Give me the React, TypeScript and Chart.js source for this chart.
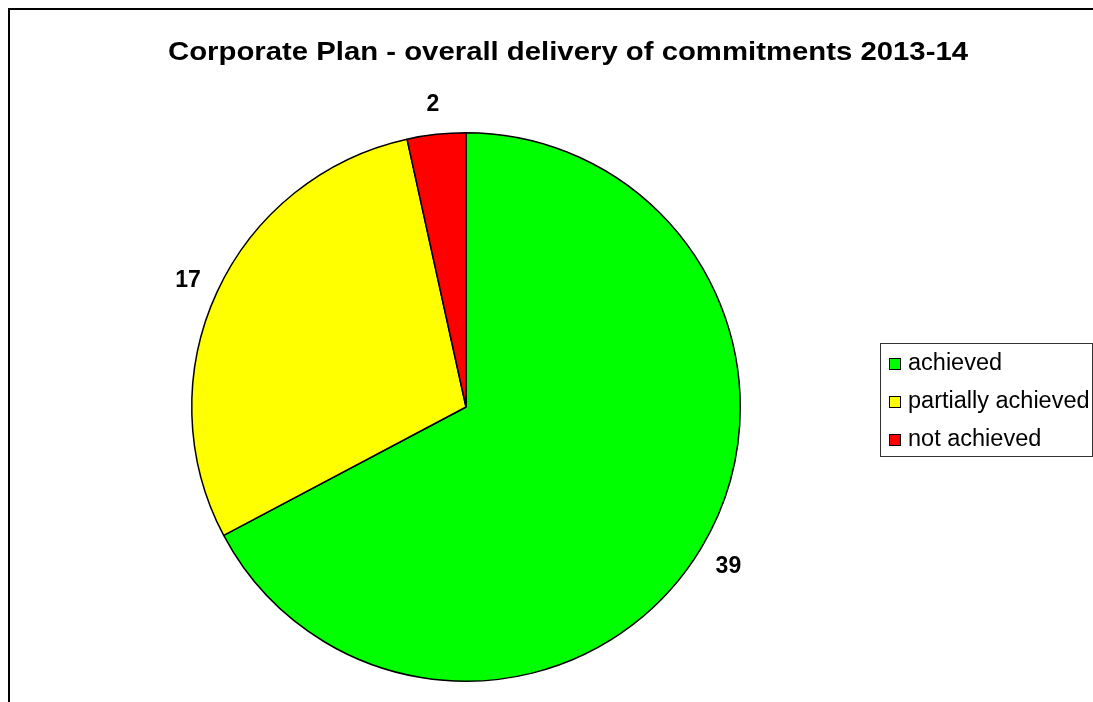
import React, { useEffect, useRef } from "react";
import { Chart, registerables } from "chart.js";

Chart.register(...registerables);

const TITLE = "Corporate Plan - overall delivery of commitments 2013-14";
const categories = ["achieved", "partially achieved", "not achieved"];
const values = [39, 17, 2];
const colors = ["#00FF00", "#FFFF00", "#FF0000"];

const FONT = "Liberation Sans, Arial, sans-serif";

const decorPlugin = {
  id: "decor",
  afterDraw(chart: any) {
    const ctx = chart.ctx as CanvasRenderingContext2D;
    ctx.save();
    // title (stretched horizontally to match the reference width)
    ctx.fillStyle = "#000";
    ctx.font = `bold 25px ${FONT}`;
    ctx.textAlign = "center";
    ctx.textBaseline = "alphabetic";
    const tw = ctx.measureText(TITLE).width;
    const sx = 800 / tw;
    ctx.save();
    ctx.translate(568, 60);
    ctx.scale(sx, 1);
    ctx.fillText(TITLE, 0, 0);
    ctx.restore();

    // data labels
    const meta = chart.getDatasetMeta(0);
    const labelFont = 23;
    ctx.font = `bold ${labelFont}px ${FONT}`;
    meta.data.forEach((arc: any, i: number) => {
      const p = arc.getProps(["x", "y", "startAngle", "endAngle", "outerRadius"], true);
      const mid = (p.startAngle + p.endAngle) / 2;
      const r = p.outerRadius + 32;
      const x = p.x + Math.cos(mid) * r;
      const y = p.y + Math.sin(mid) * r;
      ctx.textAlign = "center";
      ctx.fillText(String(chart.data.datasets[0].data[i]), x, y + labelFont * 0.36);
    });

    // legend
    const lx = 880, ly = 343, lw = 212, lh = 113;
    ctx.fillStyle = "#fff";
    ctx.fillRect(lx, ly, lw, lh);
    ctx.font = `23.5px ${FONT}`;
    ctx.textAlign = "left";
    const labels = chart.data.labels as string[];
    const bg = chart.data.datasets[0].backgroundColor as string[];
    ctx.save();
    ctx.beginPath();
    ctx.rect(lx, ly, lw, lh);
    ctx.clip();
    labels.forEach((lab, i) => {
      const base = 370 + i * 38;
      ctx.fillStyle = bg[i];
      ctx.fillRect(889, base - 12, 12, 12);
      ctx.lineWidth = 1;
      ctx.strokeStyle = "#000";
      ctx.strokeRect(889.5, base - 11.5, 11, 11);
      ctx.fillStyle = "#000";
      ctx.fillText(lab, 908, base);
    });
    ctx.restore();
    ctx.lineWidth = 1;
    ctx.strokeStyle = "#333";
    ctx.strokeRect(lx + 0.5, ly + 0.5, lw, lh);
    ctx.restore();
  },
};

export default function App() {
  const ref = useRef<HTMLCanvasElement>(null);
  useEffect(() => {
    if (!ref.current) return;
    const chart = new Chart(ref.current, {
      type: "pie",
      data: {
        labels: categories,
        datasets: [
          {
            data: values,
            backgroundColor: colors,
            borderColor: "#000",
            borderWidth: 1.5,
          },
        ],
      },
      options: {
        animation: false,
        responsive: false,
        maintainAspectRatio: false,
        layout: { padding: { left: 191, right: 352, top: 132, bottom: 20 } },
        plugins: {
          legend: { display: false },
          title: { display: false },
          tooltip: { enabled: false },
        },
      },
      plugins: [decorPlugin],
    });
    return () => chart.destroy();
  }, []);

  return (
    <div
      style={{
        position: "fixed",
        left: 0,
        top: 0,
        width: 1093,
        height: 702,
        overflow: "hidden",
        background: "#fff",
      }}
    >
      <canvas ref={ref} width={1093} height={702} style={{ position: "absolute", left: 0, top: 0, width: 1093, height: 702 }} />
      <div
        style={{
          position: "absolute",
          left: 8,
          top: 8,
          width: 2000,
          height: 2000,
          borderLeft: "2px solid #000",
          borderTop: "2px solid #000",
          pointerEvents: "none",
        }}
      />
    </div>
  );
}
